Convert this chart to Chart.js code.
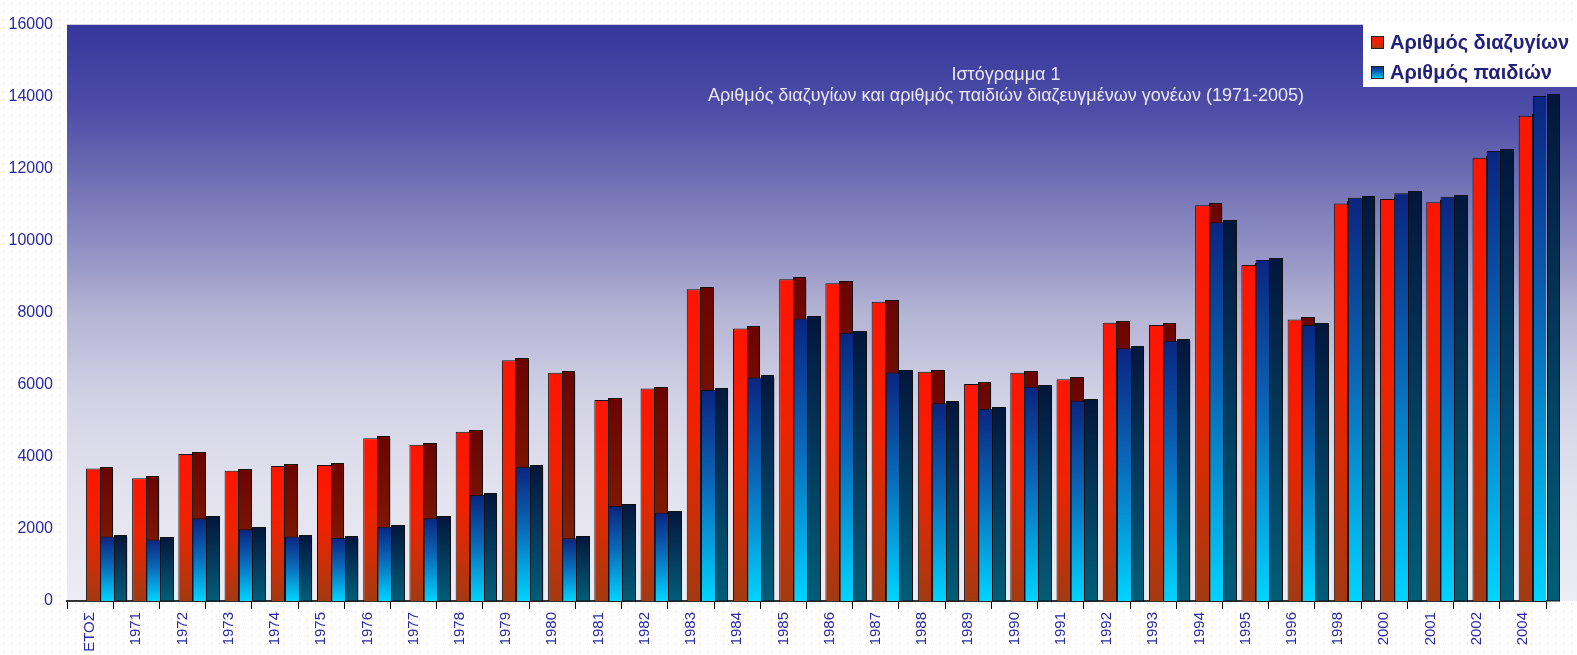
<!DOCTYPE html>
<html><head><meta charset="utf-8">
<script src="https://cdn.jsdelivr.net/npm/chart.js@4.4.1/dist/chart.umd.min.js"></script>
<style>html,body{margin:0;padding:0;background:#fff;}canvas{display:block}</style>
</head><body>
<canvas id="c" width="1577" height="655"></canvas>
<script>
const categories = ['ΕΤΟΣ','1971','1972','1973','1974','1975','1976','1977','1978','1979','1980','1981','1982','1983','1984','1985','1986','1987','1988','1989','1990','1991','1992','1993','1994','1995','1996','1998','2000','2001','2002','2004'];
const divorces = [3680,3410,4080,3620,3750,3780,4520,4340,4700,6690,6340,5580,5900,8660,7570,8935,8825,8315,6370,6030,6340,6160,7730,7670,10990,9330,7820,11045,11165,11075,12315,13480];
const children = [1790,1710,2300,1990,1790,1750,2065,2300,2945,3730,1740,2640,2450,5860,6210,7850,7450,6350,5490,5340,5950,5565,7020,7230,10520,9470,7670,11200,11325,11230,12500,14030];
const seriesNames = ['Αριθμός διαζυγίων','Αριθμός παιδιών'];
const titleLines = ['Ιστόγραμμα 1','Αριθμός διαζυγίων και αριθμός παιδιών διαζευγμένων γονέων (1971-2005)'];
const yMin = 0, yMax = 16000, yStep = 2000;

const style = {
  redFront: [[0,'#ff1400'],[0.45,'#f02200'],[0.75,'#c83008'],[1,'#a23a12']],
  redSide: [[0,'#6a0400'],[0.6,'#7e1a02'],[1,'#8e2c06']],
  blueFront: [[0,'#0a2580'],[0.45,'#0a68b8'],[1,'#00d4ff']],
  blueSide: [[0,'#03163c'],[0.5,'#043a5c'],[1,'#005e78']],
  bg: [[0,'#36369b'],[0.15,'#4e4ea8'],[0.25,'#6a6ab2'],[0.4,'#9494c6'],[0.5,'#b4b4d4'],[0.65,'#d2d2e6'],[0.8,'#e2e2ee'],[1,'#ececf4']],
  text: '#2a2aa0'
};
const redShift = 0.2035, blueShift = 0.512;

function vGrad(ctx, y0, y1, stops) {
  const g = ctx.createLinearGradient(0, y0, 0, y1);
  stops.forEach(s => g.addColorStop(s[0], s[1]));
  return g;
}
function frontFill(stops) {
  return (c) => {
    const chart = c.chart;
    const ys = chart.scales.y;
    if (!ys || c.raw == null) return stops[0][1];
    const top = ys.getPixelForValue(c.raw.y);
    const base = ys.getPixelForValue(0);
    if (!isFinite(top) || !isFinite(base) || base - top < 1) return stops[0][1];
    return vGrad(chart.ctx, top, base, stops);
  };
}

const bgPlugin = {
  id: 'bg',
  beforeDraw(chart) {
    const {ctx, width, height, chartArea: a} = chart;
    ctx.save();
    ctx.fillStyle = '#fff'; ctx.fillRect(0, 0, width, height);
    const pc = document.createElement('canvas'); pc.width = 8; pc.height = 8;
    const p = pc.getContext('2d'); p.fillStyle = '#cdcdcd'; p.fillRect(3, 3, 1, 1);
    ctx.fillStyle = ctx.createPattern(pc, 'repeat'); ctx.fillRect(0, 0, width, height);
    ctx.fillStyle = vGrad(ctx, a.top, a.bottom, style.bg);
    ctx.fillRect(a.left, a.top, width - a.left, a.bottom - a.top);
    ctx.fillStyle = '#c8c8e0'; ctx.fillRect(a.left, a.top - 1, width - a.left, 1);
    ctx.restore();
  }
};

const sidePlugin = {
  id: 'side3d',
  afterDatasetDraw(chart, args) {
    const ctx = chart.ctx;
    const stops = args.index === 0 ? style.redSide : style.blueSide;
    ctx.save();
    args.meta.data.forEach(el => {
      const xl = Math.round(el.x) + 0.5, xr = Math.round(el.x + el.width / 2) - 0.5;
      const yt = Math.round(el.y) - 1.5, yb = Math.round(el.base);
      ctx.fillStyle = vGrad(ctx, yt, yb, stops);
      ctx.fillRect(xl, yt, xr - xl, yb - yt);
      ctx.strokeStyle = '#101010'; ctx.lineWidth = 1;
      ctx.strokeRect(xl, yt, xr - xl, yb - yt);
    });
    ctx.restore();
  }
};

const textPlugin = {
  id: 'texts',
  afterDraw(chart) {
    const {ctx, chartArea: a, width} = chart;
    ctx.save();
    const cx = a.left + 939;
    ctx.fillStyle = '#e8e8f4';
    ctx.font = '18px "Liberation Sans", Arial, sans-serif';
    ctx.textAlign = 'center'; ctx.textBaseline = 'middle';
    ctx.fillText(titleLines[0], cx, a.top + 50);
    ctx.fillText(titleLines[1], cx, a.top + 71);
    const lx = a.right - 183, ly = a.top - 1;
    ctx.fillStyle = '#fff'; ctx.fillRect(lx, ly, width - lx, 63);
    ctx.font = 'bold 20px "Liberation Sans", Arial, sans-serif';
    ctx.textAlign = 'left';
    [style.redFront, style.blueFront].forEach((st, i) => {
      const sy = ly + 12 + i * 30;
      ctx.fillStyle = vGrad(ctx, sy, sy + 13, st);
      ctx.fillRect(lx + 8, sy, 13, 13);
      ctx.strokeStyle = '#222'; ctx.lineWidth = 1;
      ctx.strokeRect(lx + 8.5, sy + 0.5, 12, 12);
      ctx.fillStyle = '#22227a';
      ctx.fillText(seriesNames[i], lx + 27, sy + 7);
    });
    ctx.restore();
  }
};

const n = categories.length;
new Chart(document.getElementById('c'), {
  type: 'bar',
  data: {
    labels: categories,
    datasets: [
      { label: seriesNames[0], data: divorces.map((v, i) => ({x: i, y: v})), xAxisID: 'xr', yAxisID: 'y', order: 1,
        grouped: false, backgroundColor: frontFill(style.redFront), borderColor: '#101010', borderWidth: 1,
        categoryPercentage: 1, barPercentage: 0.589 },
      { label: seriesNames[1], data: children.map((v, i) => ({x: i, y: v})), xAxisID: 'xbl', yAxisID: 'y', order: 0,
        grouped: false, backgroundColor: frontFill(style.blueFront), borderColor: '#101010', borderWidth: 1,
        categoryPercentage: 1, barPercentage: 0.589 }
    ]
  },
  options: {
    responsive: false, animation: false, events: [],
    layout: { padding: { top: 25, right: 31, left: 0, bottom: 0 } },
    plugins: { legend: { display: false }, tooltip: { enabled: false }, title: { display: false } },
    scales: {
      xr: { type: 'linear', display: false, offset: false, min: -0.5 - redShift, max: n - 0.5 - redShift,
            ticks: { stepSize: 1, includeBounds: false }, grid: { display: false, offset: false } },
      xbl: { type: 'linear', display: false, offset: false, min: -0.5 - blueShift, max: n - 0.5 - blueShift,
            ticks: { stepSize: 1, includeBounds: false }, grid: { display: false, offset: false } },
      x: { type: 'category', position: 'bottom', offset: true,
           grid: { offset: true, drawOnChartArea: false, drawTicks: true, tickLength: 8, color: '#000', lineWidth: 1 },
           border: { display: true, color: '#333', width: 2 },
           ticks: { autoSkip: false, minRotation: 90, maxRotation: 90, padding: 3, color: style.text,
                    font: { family: '"Liberation Sans", Arial, sans-serif', size: 15 } },
           afterFit: (s) => { s.height = 54; } },
      y: { min: yMin, max: yMax,
           ticks: { stepSize: yStep, padding: 14, color: style.text, callback: (v) => String(v),
                    font: { family: '"Liberation Sans", Arial, sans-serif', size: 16 } },
           grid: { display: false, drawTicks: false },
           border: { display: false },
           afterFit: (s) => { s.width = 67; } }
    }
  },
  plugins: [bgPlugin, sidePlugin, textPlugin]
});
</script>
</body></html>
